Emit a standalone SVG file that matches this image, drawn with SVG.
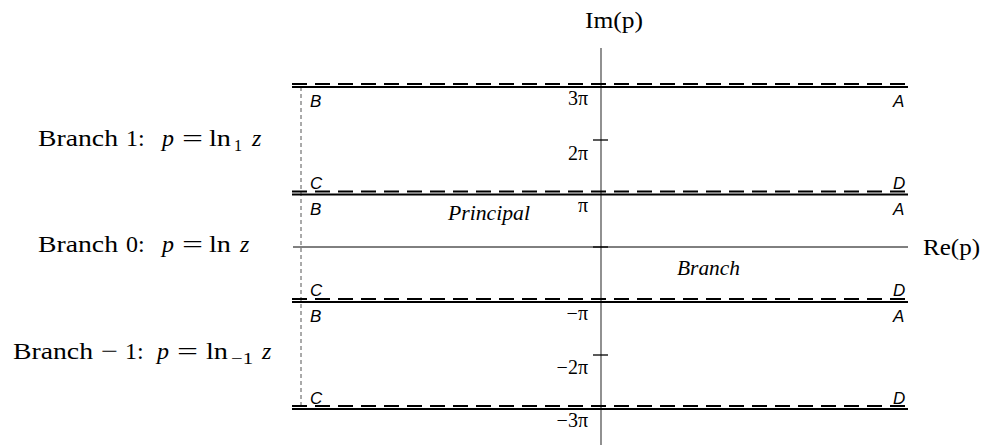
<svg xmlns="http://www.w3.org/2000/svg" width="985" height="445" viewBox="0 0 985 445">
<style>
.solid{stroke:#000;stroke-width:2.2;fill:none}
.dash{stroke:#000;stroke-width:2.2;stroke-dasharray:15 8;fill:none}
.axis{stroke:#555;stroke-width:1.3;fill:none}
.thin{stroke:#000;stroke-width:1;fill:none}
.tick{stroke:#000;stroke-width:1.3}
.vd{stroke:#555;stroke-width:1;stroke-dasharray:4 3;fill:none}
.lbl{font-family:"Liberation Sans",Arial,sans-serif;font-style:italic;font-size:17px;fill:#000}
.num{font-family:"Liberation Serif","Times New Roman",serif;font-size:20px;fill:#000;text-anchor:end}
.ser{font-family:"Liberation Serif","Times New Roman",serif;font-size:24px;fill:#000}
.br{font-family:"Liberation Serif","Times New Roman",serif;font-size:24px;fill:#000}
.sub{font-family:"Liberation Serif","Times New Roman",serif;font-size:16px;fill:#000}
.it{font-style:italic}
.reg{font-family:"Liberation Serif","Times New Roman",serif;font-style:italic;font-size:20px;fill:#000}
</style>
<g id="connectors">
<line class="axis" x1="601" y1="48" x2="601" y2="445"/>
<line class="thin" x1="293" y1="247" x2="908" y2="247"/>
<line class="tick" x1="593" y1="140" x2="608" y2="140"/>
<line class="tick" x1="593" y1="247" x2="608" y2="247"/>
<line class="tick" x1="593" y1="355" x2="608" y2="355"/>
<line class="vd" x1="301" y1="87" x2="301" y2="408"/>
<line class="dash" x1="292" y1="84" x2="908" y2="84"/>
<line class="solid" x1="292" y1="87" x2="908" y2="87"/>
<line class="dash" x1="292" y1="191.5" x2="908" y2="191.5"/>
<line class="solid" x1="292" y1="194.5" x2="908" y2="194.5"/>
<line class="dash" x1="292" y1="299" x2="908" y2="299"/>
<line class="solid" x1="292" y1="302" x2="908" y2="302"/>
<line class="dash" x1="292" y1="406" x2="908" y2="406"/>
<line class="solid" x1="292" y1="409" x2="908" y2="409"/>
</g>
<g id="axis-labels">
<text class="ser" x="585" y="28" textLength="58" lengthAdjust="spacingAndGlyphs">Im(p)</text>
<text class="ser" x="923" y="255" textLength="57" lengthAdjust="spacingAndGlyphs">Re(p)</text>
</g>
<g id="ticks-labels">
<text class="num" x="588" y="105">3π</text>
<text class="num" x="588" y="160">2π</text>
<text class="num" x="588" y="212">π</text>
<text class="num" x="588" y="320">−π</text>
<text class="num" x="588" y="374">−2π</text>
<text class="num" x="588" y="427">−3π</text>
</g>
<g id="corner-labels">
<text class="lbl" x="310" y="107">B</text>
<text class="lbl" x="893" y="107">A</text>
<text class="lbl" x="310" y="189">C</text>
<text class="lbl" x="893" y="189">D</text>
<text class="lbl" x="310" y="215">B</text>
<text class="lbl" x="893" y="215">A</text>
<text class="lbl" x="310" y="296">C</text>
<text class="lbl" x="893" y="296">D</text>
<text class="lbl" x="310" y="322">B</text>
<text class="lbl" x="893" y="322">A</text>
<text class="lbl" x="310" y="404">C</text>
<text class="lbl" x="893" y="404">D</text>
</g>
<g id="region-labels">
<text class="reg" x="448" y="220" textLength="82" lengthAdjust="spacingAndGlyphs">Principal</text>
<text class="reg" x="677" y="275" textLength="63" lengthAdjust="spacingAndGlyphs">Branch</text>
</g>
<g id="branch1">
<text class="br" x="38" y="146" textLength="80" lengthAdjust="spacingAndGlyphs">Branch</text>
<text class="br" x="126" y="146">1:</text>
<text class="br it" x="162" y="146">p</text>
<text class="br" x="182" y="146" textLength="21" lengthAdjust="spacingAndGlyphs">=</text>
<text class="br" x="209" y="146" textLength="22" lengthAdjust="spacingAndGlyphs">ln</text>
<text class="sub" x="234" y="151">1</text>
<text class="br it" x="252" y="146">z</text>
</g>
<g id="branch0">
<text class="br" x="38" y="252" textLength="80" lengthAdjust="spacingAndGlyphs">Branch</text>
<text class="br" x="126" y="252">0:</text>
<text class="br it" x="162" y="252">p</text>
<text class="br" x="182" y="252" textLength="21" lengthAdjust="spacingAndGlyphs">=</text>
<text class="br" x="209" y="252" textLength="22" lengthAdjust="spacingAndGlyphs">ln</text>
<text class="br it" x="240" y="252">z</text>
</g>
<g id="branch-1">
<text class="br" x="13" y="359" textLength="80" lengthAdjust="spacingAndGlyphs">Branch</text>
<text class="br" x="101" y="359" textLength="17" lengthAdjust="spacingAndGlyphs">−</text>
<text class="br" x="125" y="359">1:</text>
<text class="br it" x="157" y="359">p</text>
<text class="br" x="177" y="359" textLength="21" lengthAdjust="spacingAndGlyphs">=</text>
<text class="br" x="206" y="359" textLength="22" lengthAdjust="spacingAndGlyphs">ln</text>
<text class="sub" x="231" y="364" textLength="22" lengthAdjust="spacingAndGlyphs">−1</text>
<text class="br it" x="262" y="359">z</text>
</g>
</svg>
